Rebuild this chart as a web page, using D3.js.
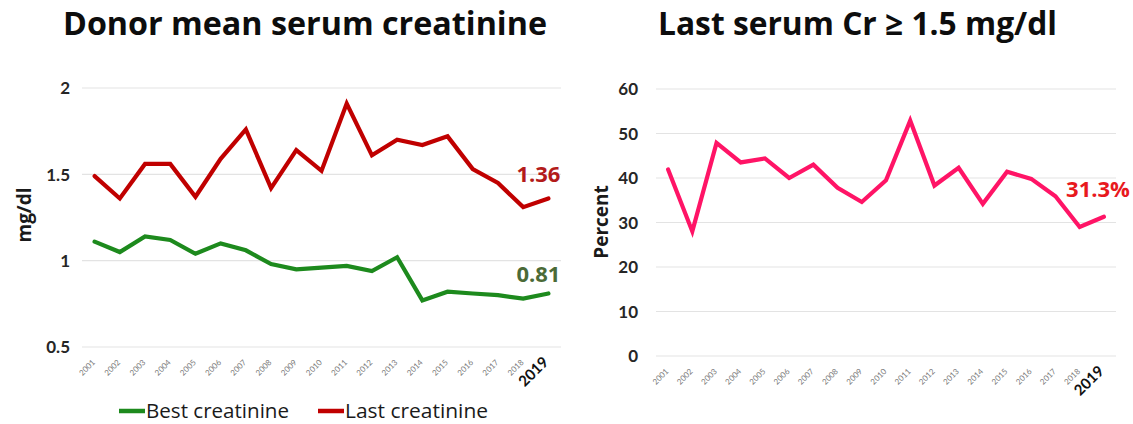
<!DOCTYPE html>
<html>
<head>
<meta charset="utf-8">
<script src="https://cdn.jsdelivr.net/npm/d3@7/dist/d3.min.js"></script>
<style>
  html, body { margin: 0; padding: 0; background: #fff; }
  svg { display: block; font-family: "Open Sans", Lato, sans-serif; }
</style>
</head>
<body>
<svg id="chart" width="1133" height="424"></svg>
<script>
// Years on the x axis
const years = ["2001","2002","2003","2004","2005","2006","2007","2008","2009","2010",
               "2011","2012","2013","2014","2015","2016","2017","2018","2019"];

// Donor mean serum creatinine (mg/dl)
const bestCreatinine = [1.11,1.05,1.14,1.12,1.04,1.10,1.06,0.98,0.95,0.96,
                        0.97,0.94,1.02,0.77,0.82,0.81,0.80,0.78,0.81];
const lastCreatinine = [1.49,1.36,1.56,1.56,1.37,1.59,1.76,1.42,1.64,1.52,
                        1.91,1.61,1.70,1.67,1.72,1.53,1.45,1.31,1.36];

// Share of donors with last serum Cr >= 1.5 mg/dl (percent)
const pctHighCr = [41.9,28.0,47.9,43.5,44.4,40.0,43.0,37.8,34.6,39.5,
                   52.9,38.3,42.3,34.2,41.4,39.8,35.9,29.0,31.3];

const leftTicks = [0.5, 1, 1.5, 2];
const rightTicks = [0, 10, 20, 30, 40, 50, 60];

const svg = d3.select("#chart");

function drawPanel(cfg) {
  const g = svg.append("g");
  const x = d3.scaleBand().domain(years).range([cfg.x0, cfg.x1]);
  const y = d3.scaleLinear().domain(cfg.domain).range([cfg.yBottom, cfg.yTop]);
  const cx = d => x(d) + x.bandwidth() / 2;

  // horizontal gridlines
  g.append("g").selectAll("line").data(cfg.ticks).join("line")
    .attr("x1", cfg.x0).attr("x2", cfg.x1)
    .attr("y1", d => y(d)).attr("y2", d => y(d))
    .attr("stroke", "#e3e3e3").attr("stroke-width", 1.2);

  // y axis labels
  const yAxis = d3.axisLeft(y).tickValues(cfg.ticks).tickSize(0).tickPadding(0)
    .tickFormat(d3.format("~g"));
  const ya = g.append("g").attr("transform", `translate(${cfg.yLabelX},0)`).call(yAxis);
  ya.select(".domain").remove();
  ya.selectAll("text").attr("font-family", "Lato, sans-serif").attr("font-weight", 700)
    .attr("font-size", 17).attr("fill", "#262626").attr("dy", "0.35em");

  // x axis labels, rotated
  const xAxis = d3.axisBottom(x).tickSize(0).tickPadding(0);
  const xa = g.append("g").attr("transform", `translate(0,${cfg.yBottom + 13})`).call(xAxis);
  xa.select(".domain").remove();
  xa.selectAll("text")
    .attr("font-family", "Lato, sans-serif")
    .attr("text-anchor", "end").attr("dy", 0).attr("y", 0)
    .attr("transform", "translate(1,3) rotate(-45)")
    .attr("font-size", d => d === "2019" ? 15 : 8)
    .attr("font-weight", d => d === "2019" ? 700 : 400)
    .attr("fill", d => d === "2019" ? "#111" : "#7a7a7a");

  // y axis title
  g.append("text")
    .attr("transform", `translate(${cfg.titleX},${cfg.titleY}) rotate(-90)`)
    .attr("text-anchor", "middle").attr("font-weight", 700).attr("font-size", 19)
    .attr("fill", "#1a1a1a").text(cfg.yTitle);

  // series lines
  cfg.series.forEach(s => {
    const line = d3.line().x((d, i) => cx(years[i])).y(d => y(d));
    g.append("path").datum(s.values).attr("d", line)
      .attr("fill", "none").attr("stroke", s.color).attr("stroke-width", 4.2)
      .attr("stroke-linejoin", "miter").attr("stroke-linecap", "round");
    const last = s.values[s.values.length - 1];
    g.append("text")
      .attr("x", cx(years[years.length - 1]) + s.labelDx)
      .attr("y", y(last) + s.labelDy)
      .attr("text-anchor", "end").attr("font-weight", 700).attr("font-size", 22)
      .attr("fill", s.labelColor).text(s.format(last));
  });

  // chart title
  g.append("text")
    .attr("x", cfg.chartTitleX).attr("y", 35)
    .attr("font-weight", 700).attr("font-size", 32).attr("fill", "#0d0d0d")
    .attr("textLength", cfg.chartTitleLen).attr("lengthAdjust", "spacingAndGlyphs")
    .text(cfg.chartTitle);

  return { x, y };
}

drawPanel({
  x0: 82, x1: 561, yTop: 88, yBottom: 347, domain: [0.5, 2], ticks: leftTicks,
  yLabelX: 70, titleX: 31, titleY: 215, yTitle: "mg/dl",
  chartTitle: "Donor mean serum creatinine", chartTitleX: 63, chartTitleLen: 484,
  series: [
    { values: bestCreatinine, color: "#1d8a1d", labelColor: "#4b6a37", labelDx: 12, labelDy: -11,
      format: d3.format(".2f") },
    { values: lastCreatinine, color: "#c00000", labelColor: "#b31b1b", labelDx: 12, labelDy: -17,
      format: d3.format(".2f") }
  ]
});

drawPanel({
  x0: 656, x1: 1116, yTop: 89, yBottom: 356, domain: [0, 60], ticks: rightTicks,
  yLabelX: 638, titleX: 608, titleY: 222, yTitle: "Percent",
  chartTitle: "Last serum Cr \u2265 1.5 mg/dl", chartTitleX: 658, chartTitleLen: 399,
  series: [
    { values: pctHighCr, color: "#ff1466", labelColor: "#e8191e", labelDx: 26, labelDy: -20,
      format: d => d3.format(".1f")(d) + "%" }
  ]
});

// legend for the creatinine panel
const legend = [
  { name: "Best creatinine", color: "#1d8a1d", x: 119 },
  { name: "Last creatinine", color: "#c00000", x: 318 }
];
const lg = svg.append("g").selectAll("g").data(legend).join("g")
  .attr("transform", d => `translate(${d.x},411)`);
lg.append("line").attr("x1", 0).attr("x2", 26).attr("y1", 0).attr("y2", 0)
  .attr("stroke", d => d.color).attr("stroke-width", 4.5);
lg.append("text").attr("x", 27).attr("y", 7).attr("font-size", 20)
  .attr("fill", "#1a1a1a").attr("textLength", 143).attr("lengthAdjust", "spacingAndGlyphs")
  .text(d => d.name);
</script>
</body>
</html>
